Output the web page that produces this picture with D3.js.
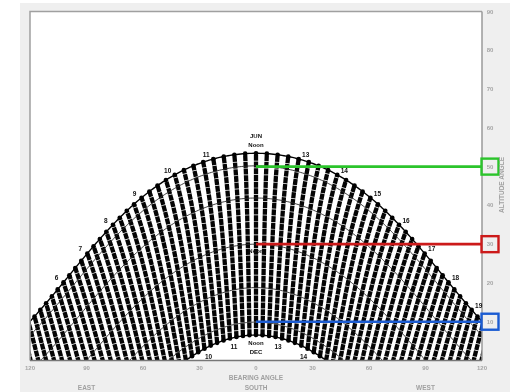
<!DOCTYPE html>
<html><head><meta charset="utf-8">
<script src="https://cdn.jsdelivr.net/npm/d3@7"></script>
<style>html,body{margin:0;padding:0;background:#fff;}svg{display:block;font-family:"Liberation Sans",Arial,sans-serif;will-change:transform;-webkit-font-smoothing:antialiased;}</style>
</head><body><svg id="c" width="520" height="392"></svg>
<script>
// ---- data ----
const latitude = 60;                                        // site latitude (deg N)
const dateArcDeclinations = [23.44, 20.2, 11.9, 0, -11.2, -20.1, -23.44]; // Jun, May/Jul, Apr/Aug, Mar/Sep, Feb/Oct, Jan/Nov, Dec
const hourLineStart = 3, hourLineEnd = 21, hourLineStepMinutes = 15;
const juneHourLabels = [6, 7, 8, 9, 10, 11, 13, 14, 15, 16, 17, 18, 19];
const decHourLabels = [10, 11, 13, 14];
const altitudeTicks = [10, 20, 30, 40, 50, 60, 70, 80, 90];
const bearingTicks = [-120, -90, -60, -30, 0, 30, 60, 90, 120];
const highlightAltitudes = [50, 30, 10];
const highlightColors = ["#2bc42b", "#cc1a1a", "#1c5cd2"];

// ---- geometry ----
const rad = Math.PI / 180;
function sunPos(t, dec) {
  const H = (t - 12) * 15 * rad, d = dec * rad, p = latitude * rad;
  const sa = Math.sin(p) * Math.sin(d) + Math.cos(p) * Math.cos(d) * Math.cos(H);
  const alt = Math.asin(sa) / rad;
  const az = Math.atan2(Math.sin(H) * Math.cos(d),
      Math.cos(H) * Math.cos(d) * Math.sin(p) - Math.sin(d) * Math.cos(p)) / rad;
  return { az, alt };
}

const svg = d3.select("#c");
const x = d3.scaleLinear().domain([-120, 120]).range([30, 482]);
const y = d3.scaleLinear().domain([0, 90]).range([360.5, 11.5]);
const line = d3.line().x(p => x(p.az)).y(p => y(p.alt));

// panel background
svg.append("rect").attr("x", 20).attr("y", 3).attr("width", 490).attr("height", 389).attr("fill", "#efefef");
svg.append("rect").attr("x", x(-120)).attr("y", y(90)).attr("width", x(120) - x(-120)).attr("height", y(0) - y(90)).attr("fill", "#fff");

svg.append("defs").append("clipPath").attr("id", "clip")
  .append("rect").attr("x", x(-120)).attr("y", y(90)).attr("width", x(120) - x(-120)).attr("height", y(0) - y(90));
const g = svg.append("g").attr("clip-path", "url(#clip)");

// hour lines (dotted day-by-day positions)
const times = d3.range(hourLineStart, hourLineEnd + 0.001, hourLineStepMinutes / 60);
const decSamples = d3.range(-23.44, 23.4401, 0.2);
times.forEach(t => {
  const pts = decSamples.map(dec => sunPos(t, dec)).filter(p => p.alt > -4);
  if (pts.length < 2) return;
  g.append("path").attr("d", line(pts)).attr("fill", "none")
    .attr("stroke", "#050505").attr("stroke-width", 4.3).attr("stroke-dasharray", "6,0.7");
  [23.44, -23.44].forEach(dec => {
    const p = sunPos(t, dec);
    if (p.alt > 0) g.append("circle").attr("cx", x(p.az)).attr("cy", y(p.alt)).attr("r", 2.3).attr("fill", "#000");
  });
});

// date arcs
const daySamples = d3.range(0, 24.001, 0.05);
dateArcDeclinations.forEach((dec, i) => {
  const pts = daySamples.map(t => sunPos(t, dec)).filter(p => p.alt > -3);
  const solstice = i === 0 || i === dateArcDeclinations.length - 1;
  g.append("path").attr("d", line(pts)).attr("fill", "none")
    .attr("stroke", solstice ? "#000" : "#2a2a2a").attr("stroke-width", solstice ? 1.4 : 0.9);
});

// frame
svg.append("path").attr("d", `M${x(-120)},${y(0)}V${y(90)}H${x(120)}`).attr("fill", "none").attr("stroke", "#a0a0a0").attr("stroke-width", 1.5);
svg.append("line").attr("x1", x(120)).attr("x2", x(120)).attr("y1", y(90)).attr("y2", y(0)).attr("stroke", "#9a9a9a").attr("stroke-width", 1.5);
svg.append("line").attr("x1", x(-120)).attr("x2", x(120)).attr("y1", y(0)).attr("y2", y(0)).attr("stroke", "#777").attr("stroke-width", 1.6);

// highlight lines
highlightAltitudes.forEach((a, i) => {
  const c = highlightColors[i];
  svg.append("line").attr("x1", x(0)).attr("x2", x(120) - 1).attr("y1", y(a)).attr("y2", y(a))
    .attr("stroke", c).attr("stroke-width", 2.6);
  svg.append("rect").attr("x", x(120) - 0.5).attr("y", y(a) - 8).attr("width", 17).attr("height", 16)
    .attr("fill", "none").attr("stroke", c).attr("stroke-width", 2.4);
});

// altitude tick labels
svg.append("g").selectAll("text").data(altitudeTicks).join("text")
  .attr("x", x(120) + 8).attr("y", d => y(d) + 2).attr("text-anchor", "middle")
  .attr("font-size", 6).attr("font-weight", "bold").attr("fill", "#a5a5a5").text(d => d);
// bearing tick labels
svg.append("g").selectAll("text").data(bearingTicks).join("text")
  .attr("x", d => x(d)).attr("y", 370).attr("text-anchor", "middle")
  .attr("font-size", 6).attr("font-weight", "bold").attr("fill", "#a5a5a5").text(d => Math.abs(d));

const axisText = (txt, xx, yy) => svg.append("text").attr("x", xx).attr("y", yy).attr("text-anchor", "middle")
  .attr("font-size", 6.5).attr("font-weight", "bold").attr("fill", "#a0a0a0").text(txt);
axisText("BEARING ANGLE", x(0), 380);
axisText("SOUTH", x(0), 390);
axisText("EAST", x(-90), 390);
axisText("WEST", x(90), 390);
svg.append("text").attr("transform", `translate(504,185) rotate(-90)`).attr("text-anchor", "middle")
  .attr("font-size", 6.5).attr("font-weight", "bold").attr("fill", "#a0a0a0").text("ALTITUDE ANGLE");

// hour labels
const lbl = (txt, xx, yy, size) => svg.append("text").attr("x", xx).attr("y", yy).attr("text-anchor", "middle")
  .attr("font-size", size || 6.5).attr("font-weight", "bold").attr("fill", "#111").text(txt);
juneHourLabels.forEach(h => {
  const p = sunPos(h, 23.44);
  const dx = h < 12 ? -7 : 7;
  lbl(h, x(p.az) + dx, y(p.alt) - 2);
});
decHourLabels.forEach(h => {
  const p = sunPos(h, -23.44);
  const dx = h < 12 ? 4 : -4;
  lbl(h, x(p.az) + dx, y(p.alt) + 10);
});
const jn = sunPos(12, 23.44);
lbl("JUN", x(jn.az), y(jn.alt) - 15, 6);
lbl("Noon", x(jn.az), y(jn.alt) - 6, 6);
const eq = sunPos(12, 0);
lbl("Noon", x(eq.az), y(eq.alt) + 9, 6);
const dc = sunPos(12, -23.44);
lbl("Noon", x(dc.az), y(dc.alt) + 10, 6);
lbl("DEC", x(dc.az), y(dc.alt) + 19, 6);
</script></body></html>
